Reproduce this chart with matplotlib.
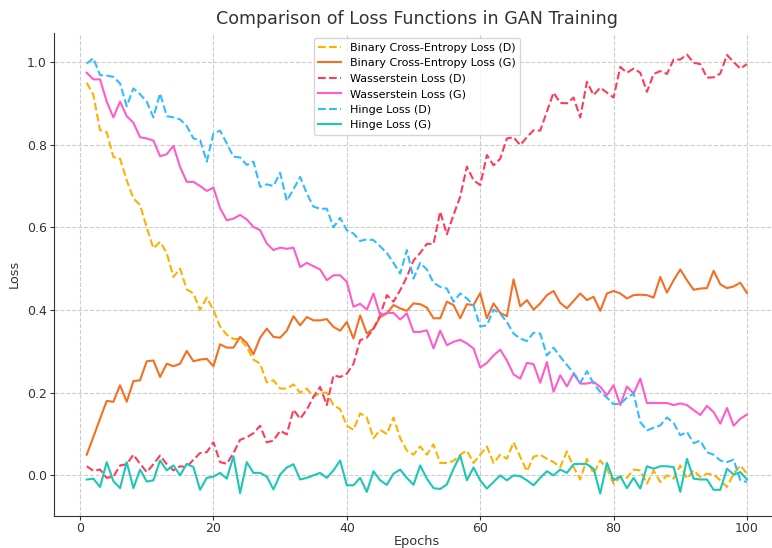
import numpy as np
import matplotlib
matplotlib.use("Agg")
import matplotlib.pyplot as plt

# epochs 1..100
epochs = np.arange(1, 101)

bce_d = [0.95, 0.92, 0.835, 0.83, 0.77, 0.766, 0.714, 0.67, 0.654, 0.60,
         0.549, 0.565, 0.538, 0.48, 0.50, 0.45, 0.44, 0.40, 0.43, 0.40,
         0.36, 0.34, 0.33, 0.33, 0.31, 0.28, 0.27, 0.225, 0.23, 0.21,
         0.21, 0.22, 0.20, 0.21, 0.19, 0.20, 0.20, 0.17, 0.16, 0.12,
         0.11, 0.15, 0.14, 0.09, 0.11, 0.10, 0.14, 0.09, 0.06, 0.05,
         0.07, 0.05, 0.075, 0.03, 0.03, 0.035, 0.05, 0.06, 0.03, 0.05,
         0.07, 0.03, 0.05, 0.04, 0.08, 0.045, 0.01, 0.045, 0.05, 0.04,
         0.032, 0.02, 0.058, 0.02, -0.01, 0.04, 0.004, 0.036, 0.016, -0.02,
         -0.004, -0.006, 0.014, 0.012, -0.02, 0.012, -0.016, 0.0, -0.008, 0.024,
         -0.008, 0.012, -0.004, 0.004, 0.002, -0.012, -0.028, 0.004, 0.024, 0.004]

bce_g = [0.05, 0.093, 0.137, 0.18, 0.178, 0.218, 0.178, 0.228, 0.23, 0.276,
         0.278, 0.238, 0.27, 0.264, 0.27, 0.301, 0.276, 0.28, 0.282, 0.264,
         0.317, 0.309, 0.309, 0.335, 0.32, 0.293, 0.333, 0.355, 0.335, 0.333,
         0.35, 0.385, 0.363, 0.383, 0.375, 0.375, 0.378, 0.359, 0.35, 0.371,
         0.331, 0.387, 0.343, 0.355, 0.383, 0.392, 0.412, 0.404, 0.398, 0.416,
         0.414, 0.406, 0.38, 0.38, 0.42, 0.412, 0.38, 0.414, 0.412, 0.441,
         0.38, 0.416, 0.393, 0.385, 0.474, 0.409, 0.424, 0.401, 0.416, 0.436,
         0.446, 0.417, 0.404, 0.422, 0.44, 0.424, 0.432, 0.398, 0.44, 0.446,
         0.44, 0.428, 0.436, 0.437, 0.436, 0.43, 0.48, 0.442, 0.472, 0.498,
         0.472, 0.449, 0.452, 0.453, 0.495, 0.462, 0.453, 0.457, 0.466, 0.441]

wass_d = [0.022, 0.011, 0.014, -0.006, -0.003, 0.024, 0.027, 0.05, 0.028, 0.008,
          0.027, 0.048, 0.027, 0.012, 0.022, 0.02, 0.038, 0.054, 0.056, 0.08,
          0.032, 0.028, 0.054, 0.086, 0.092, 0.102, 0.12, 0.08, 0.084, 0.108,
          0.099, 0.159, 0.137, 0.159, 0.19, 0.214, 0.17, 0.242, 0.238, 0.246,
          0.27, 0.327, 0.333, 0.355, 0.387, 0.436, 0.42, 0.448, 0.48, 0.52,
          0.538, 0.56, 0.56, 0.638, 0.583, 0.63, 0.674, 0.747, 0.714, 0.702,
          0.775, 0.75, 0.766, 0.815, 0.818, 0.799, 0.818, 0.835, 0.834, 0.88,
          0.926, 0.901, 0.90, 0.914, 0.866, 0.952, 0.92, 0.938, 0.926, 0.914,
          0.988, 0.974, 0.984, 0.974, 0.928, 0.971, 0.978, 0.971, 1.006, 1.006,
          1.018, 0.998, 0.995, 0.962, 0.963, 0.972, 1.017, 1.0, 0.984, 0.995]

wass_g = [0.974, 0.958, 0.958, 0.904, 0.866, 0.904, 0.869, 0.853, 0.818, 0.815,
          0.81, 0.772, 0.777, 0.797, 0.746, 0.71, 0.71, 0.70, 0.688, 0.696,
          0.646, 0.617, 0.621, 0.63, 0.619, 0.601, 0.593, 0.561, 0.545, 0.551,
          0.548, 0.551, 0.504, 0.514, 0.506, 0.498, 0.472, 0.484, 0.484, 0.468,
          0.408, 0.415, 0.401, 0.44, 0.387, 0.393, 0.393, 0.377, 0.392, 0.347,
          0.347, 0.351, 0.307, 0.35, 0.315, 0.323, 0.328, 0.319, 0.307, 0.261,
          0.272, 0.29, 0.304, 0.278, 0.244, 0.234, 0.272, 0.269, 0.224, 0.274,
          0.202, 0.242, 0.215, 0.246, 0.222, 0.222, 0.226, 0.214, 0.194, 0.218,
          0.17, 0.215, 0.198, 0.234, 0.175, 0.175, 0.175, 0.175, 0.17, 0.174,
          0.17, 0.158, 0.146, 0.168, 0.153, 0.125, 0.163, 0.12, 0.137, 0.147]

hinge_d = [0.996, 1.009, 0.968, 0.967, 0.964, 0.948, 0.893, 0.936, 0.922, 0.904,
           0.866, 0.924, 0.869, 0.866, 0.861, 0.845, 0.815, 0.811, 0.759, 0.827,
           0.834, 0.803, 0.771, 0.769, 0.751, 0.759, 0.698, 0.704, 0.70, 0.732,
           0.664, 0.692, 0.722, 0.682, 0.65, 0.645, 0.645, 0.60, 0.623, 0.593,
           0.585, 0.567, 0.571, 0.569, 0.554, 0.538, 0.514, 0.488, 0.545, 0.476,
           0.514, 0.498, 0.466, 0.456, 0.452, 0.42, 0.44, 0.428, 0.412, 0.36,
           0.363, 0.401, 0.391, 0.371, 0.343, 0.331, 0.325, 0.345, 0.343, 0.29,
           0.309, 0.287, 0.267, 0.248, 0.224, 0.252, 0.222, 0.202, 0.188, 0.172,
           0.173, 0.188, 0.198, 0.129, 0.109, 0.115, 0.121, 0.14, 0.127, 0.097,
           0.105, 0.078, 0.084, 0.056, 0.05, 0.036, 0.032, 0.038, -0.012, -0.016]

hinge_g = [-0.01, -0.008, -0.028, 0.032, -0.014, -0.031, 0.032, -0.031, 0.014, -0.015,
           -0.012, 0.036, 0.012, 0.024, 0.0, 0.028, 0.02, -0.035, -0.006, -0.003,
           0.006, -0.008, 0.046, -0.043, 0.032, 0.006, 0.006, -0.003, -0.034, 0.002,
           0.019, 0.027, -0.01, -0.006, 0.0, 0.006, -0.006, 0.012, 0.036, -0.024,
           -0.024, -0.006, -0.04, 0.01, -0.012, -0.023, 0.004, 0.014, -0.006, -0.023,
           0.024, -0.008, -0.031, -0.033, -0.022, 0.016, 0.048, -0.012, 0.019, -0.012,
           -0.032, -0.016, 0.0, -0.012, 0.0, -0.002, -0.012, -0.024, -0.006, 0.01,
           0.0, 0.014, 0.006, 0.027, 0.028, 0.027, 0.016, -0.044, 0.03, -0.012,
           -0.002, -0.031, -0.006, -0.032, 0.022, 0.016, 0.022, 0.022, 0.02, -0.04,
           0.04, -0.008, -0.01, -0.01, -0.035, -0.035, 0.016, 0.002, 0.008, -0.01]

fig = plt.figure(figsize=(7.72, 5.48), dpi=100)
# axes runs past the right edge of the picture, as in the reference crop
ax = fig.add_axes([53.7 / 772, 1 - 515.5 / 548, (780 - 53.7) / 772, (515.5 - 32.6) / 548])

ax.plot(epochs, bce_d, linestyle='--', color='#FFB000', linewidth=1.5, label='Binary Cross-Entropy Loss (D)')
ax.plot(epochs, bce_g, linestyle='-', color='#F37021', linewidth=1.5, label='Binary Cross-Entropy Loss (G)')
ax.plot(epochs, wass_d, linestyle='--', color='#FF3B5C', linewidth=1.5, label='Wasserstein Loss (D)')
ax.plot(epochs, wass_g, linestyle='-', color='#FF5CC8', linewidth=1.5, label='Wasserstein Loss (G)')
ax.plot(epochs, hinge_d, linestyle='--', color='#33BBFF', linewidth=1.5, label='Hinge Loss (D)')
ax.plot(epochs, hinge_g, linestyle='-', color='#1CC7B7', linewidth=1.5, label='Hinge Loss (G)')

ax.set_title('Comparison of Loss Functions in GAN Training', fontsize=12.6, color='#333333')
ax.set_xlabel('Epochs', fontsize=9.3, color='#333333', labelpad=0)
ax.set_ylabel('Loss', fontsize=9.3, color='#333333')
ax.grid(True, linestyle='--', color='#cccccc', linewidth=0.8)
ax.tick_params(colors='#333333', labelsize=9, length=3, pad=2)
for side in ['top', 'right']:
    ax.spines[side].set_visible(False)
for side in ['left', 'bottom']:
    ax.spines[side].set_color('#333333')
ax.legend(loc='upper center', fontsize=8)

fig.savefig('out.png', dpi=100)
